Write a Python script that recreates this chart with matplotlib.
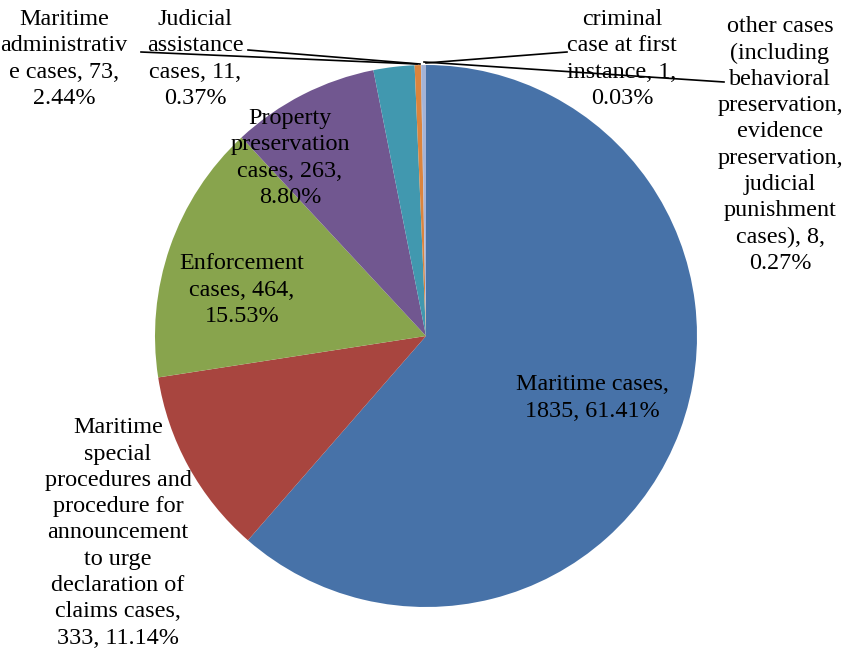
import matplotlib.pyplot as plt

labels = ['Maritime cases',
          'Maritime special procedures and procedure for announcement to urge declaration of claims cases',
          'Enforcement cases', 'Property preservation cases', 'Maritime administrative cases',
          'Judicial assistance cases', 'criminal case at first instance',
          'other cases (including behavioral preservation, evidence preservation, judicial punishment cases)']
counts = [1835, 333, 464, 263, 73, 11, 1, 8]
shares = ['61.41%', '11.14%', '15.53%', '8.80%', '2.44%', '0.37%', '0.03%', '0.27%']
colors = ['#4772A8', '#A8453F', '#88A44D', '#715790', '#4198AF', '#DB843D', '#8FA3CE', '#A4B3D6']

# label text as wrapped in the original chart
label_text = [
    'Maritime cases,\n1835, 61.41%',
    'Maritime\nspecial\nprocedures and\nprocedure for\nannouncement\nto urge\ndeclaration of\nclaims cases,\n333, 11.14%',
    'Enforcement\ncases, 464,\n15.53%',
    'Property\npreservation\ncases, 263,\n8.80%',
    'Maritime\nadministrativ\ne cases, 73,\n2.44%',
    'Judicial\nassistance\ncases, 11,\n0.37%',
    'criminal\ncase at first\ninstance, 1,\n0.03%',
    'other cases\n(including\nbehavioral\npreservation,\nevidence\npreservation,\njudicial\npunishment\ncases), 8,\n0.27%',
]
label_pos = [(592, 398), (118, 533), (242, 290), (290, 158),
             (64, 59), (195, 59), (622, 59), (780, 145)]

W, H = 846, 660
fig = plt.figure(figsize=(W / 100, H / 100), dpi=100)
ax = fig.add_axes([0, 0, 1, 1])

ax.pie(counts, colors=colors, startangle=90, counterclock=False,
       center=(426, H - 336), radius=271, frame=True,
       wedgeprops={'linewidth': 0})
ax.set_xlim(0, W)
ax.set_ylim(0, H)
ax.set_aspect('equal')
ax.axis('off')

# leader lines for the small slices
leaders = [((141, 52), (417, 64)), ((248, 50), (420, 64)),
           ((567, 52), (426, 63)), ((724, 82), (424, 62))]
for (x0, y0), (x1, y1) in leaders:
    ax.plot([x0, x1], [H - y0, H - y1], color='black', lw=1.2)

for t, (x, y) in zip(label_text, label_pos):
    ax.text(x, H - y, t, ha='center', va='center', fontsize=17.4,
            family='Liberation Serif', linespacing=1.33)

fig.savefig('out.png', dpi=100)
